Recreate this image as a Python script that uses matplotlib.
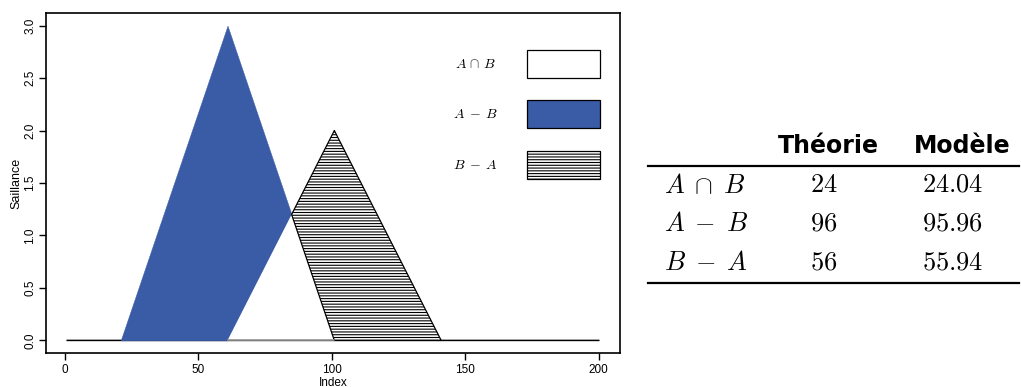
import numpy as np
import matplotlib
matplotlib.use("Agg")
import matplotlib.pyplot as plt
from matplotlib.patches import Rectangle

plt.rcParams["mathtext.fontset"] = "cm"
plt.rcParams["font.family"] = ["Liberation Sans", "DejaVu Sans"]
plt.rcParams["hatch.linewidth"] = 0.8

# Triangular saliency profiles (vertices: feet and peak)
a_vertices_x = [21, 61, 101]
a_vertices_y = [0.0, 3.0, 0.0]
b_vertices_x = [61, 101, 141]
b_vertices_y = [0.0, 2.0, 0.0]
index_range = [1, 200]

# Legend entries
legend_labels = [r"$A\,\cap\,B$", r"$A\;-\;B$", r"$B\;-\;A$"]

# Area table
row_labels = [r"$A\;\cap\;B$", r"$A\;-\;B$", r"$B\;-\;A$"]
col_headers = ["Théorie", "Modèle"]
theory_values = ["24", "96", "56"]
model_values = ["24.04", "95.96", "55.94"]

blue = "#3A5BA6"

x = np.arange(index_range[0] * 10, index_range[1] * 10 + 1) / 10.0
a = np.interp(x, a_vertices_x, a_vertices_y)
b = np.interp(x, b_vertices_x, b_vertices_y)
common = np.minimum(a, b)

fig = plt.figure(figsize=(10.21, 3.87), dpi=100)
ax = fig.add_axes([46 / 1021, 1 - 353 / 387, (620 - 46) / 1021, (353 - 13) / 387])

# baseline
ax.plot(x, np.zeros_like(x), color="black", lw=1.1, zorder=1)

# A - B (solid blue)
ax.fill_between(x, common, a, where=a > b, interpolate=True,
                facecolor=blue, edgecolor=blue, lw=0.3, zorder=2)
# A ∩ B (white)
ax.fill_between(x, 0, common, where=common > 0, interpolate=True,
                facecolor="white", edgecolor="none", zorder=2)
ax.plot(x[common > 0], np.zeros(np.sum(common > 0)), color="#888888", lw=1.1, zorder=3)
# B - A (horizontal hatching)
ax.fill_between(x, common, b, where=b > a, interpolate=True,
                facecolor="white", edgecolor="black", hatch="------", lw=0.9, zorder=2)

ax.set_xlim(-6.96, 207.96)
ax.set_ylim(-0.12, 3.12)
ax.set_xticks([0, 50, 100, 150, 200])
ax.set_yticks(np.arange(0, 3.01, 0.5))
ax.set_yticklabels([f"{v:.1f}" for v in np.arange(0, 3.01, 0.5)], rotation=90, va="center")
ax.tick_params(direction="out", length=5, width=1.0, labelsize=8.5, pad=3)
ax.tick_params(axis="y", pad=2)
for s in ax.spines.values():
    s.set_linewidth(1.2)
ax.set_xlabel("Index", fontsize=8.5, labelpad=0.5)
ax.set_ylabel("Saillance", fontsize=9, labelpad=1)

# legend boxes
box_styles = [
    dict(facecolor="white", edgecolor="black"),
    dict(facecolor=blue, edgecolor="black"),
    dict(facecolor="white", edgecolor="black", hatch="------"),
]
box_tops = [2.77, 2.29, 1.805]
for lab, style, top in zip(legend_labels, box_styles, box_tops):
    ax.add_patch(Rectangle((173.2, top - 0.27), 27.1, 0.27, lw=0.9, zorder=4, **style))
    ax.text(154, top - 0.135, lab, fontsize=10, ha="center", va="center", zorder=4)

# table of areas
def fx(px):
    return px / 1021

def fy(py):
    return 1 - py / 387

fig.text(fx(828), fy(146), col_headers[0], fontsize=17, fontweight="bold",
         ha="center", va="center", family=["DejaVu Sans"])
fig.text(fx(962), fy(146), col_headers[1], fontsize=17, fontweight="bold",
         ha="center", va="center", family=["DejaVu Sans"])
fig.add_artist(plt.Line2D([fx(648), fx(1019)], [fy(166), fy(166)], color="black", lw=1.6))
fig.add_artist(plt.Line2D([fx(648), fx(1019)], [fy(283), fy(283)], color="black", lw=1.6))
row_y = [185, 224, 263]
for lab, tv, mv, py in zip(row_labels, theory_values, model_values, row_y):
    fig.text(fx(664), fy(py), lab, fontsize=19, ha="left", va="center")
    fig.text(fx(824), fy(py), "$" + tv + "$", fontsize=19, ha="center", va="center")
    fig.text(fx(953), fy(py), "$" + mv + "$", fontsize=19, ha="center", va="center")

fig.savefig("out.png", dpi=100)
